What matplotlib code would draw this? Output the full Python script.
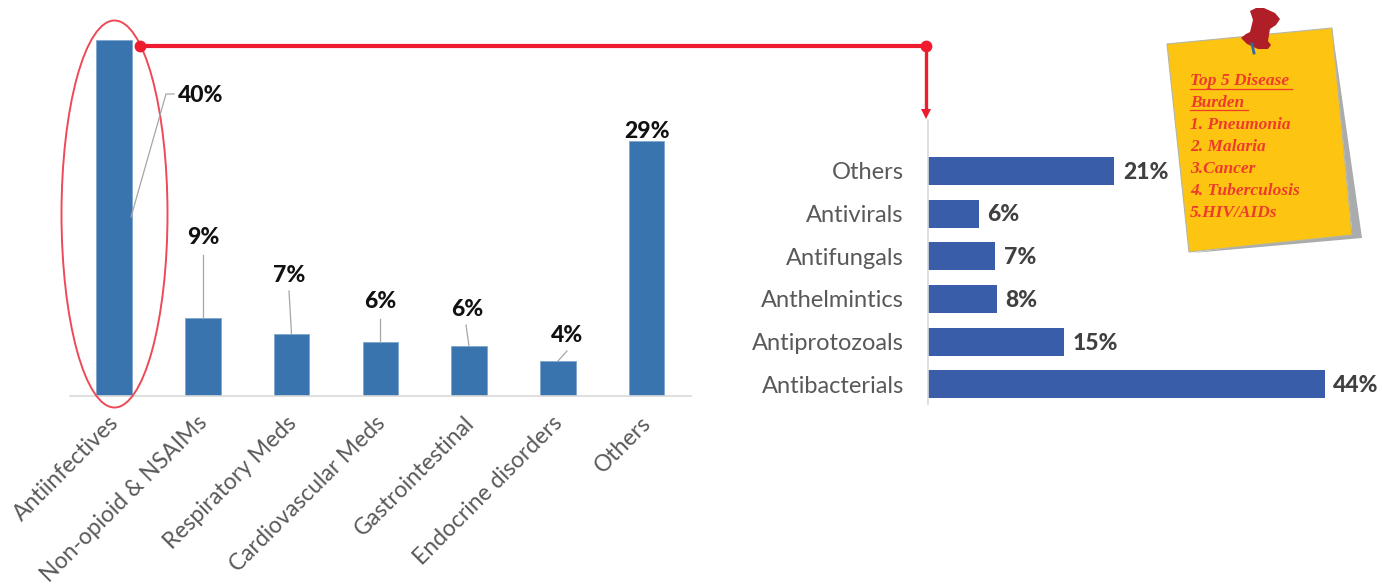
import matplotlib
matplotlib.use("Agg")
import matplotlib.pyplot as plt
from matplotlib.patches import Ellipse, Polygon
from matplotlib.transforms import ScaledTranslation

W, H = 1382, 587

# left chart
left_cats = ["Antiinfectives", "Non-opioid & NSAIMs", "Respiratory Meds",
             "Cardiovascular Meds", "Gastrointestinal", "Endocrine disorders", "Others"]
left_vals = [40, 8.7, 6.9, 6.0, 5.6, 3.9, 28.6]
left_labels = ["40%", "9%", "7%", "6%", "6%", "4%", "29%"]

# right chart (bottom to top)
right_cats = ["Antibacterials", "Antiprotozoals", "Anthelmintics", "Antifungals", "Antivirals", "Others"]
right_vals = [44, 15.1, 7.7, 7.5, 5.7, 20.7]
right_labels = ["44%", "15%", "8%", "7%", "6%", "21%"]

# sticky note
note_lines = ["Top 5 Disease", "Burden", "1. Pneumonia", "2. Malaria", "3.Cancer", "4. Tuberculosis", "5.HIV/AIDs"]

plt.rcParams["font.family"] = ["Lato", "DejaVu Sans"]
fig = plt.figure(figsize=(W / 100, H / 100), dpi=100)


def axes_px(x0, y0, x1, y1):
    # pixel box, y measured from the top of the image
    return fig.add_axes([x0 / W, 1 - y1 / H, (x1 - x0) / W, (y1 - y0) / H])


# ---- left bars
ax1 = axes_px(69.6, 39.5, 691, 395.5)
ax1.bar(range(7), left_vals, width=0.4, color="#3A74AE", edgecolor="#7FA6CE", linewidth=0.6, zorder=2)
ax1.set_xlim(-0.5, 6.5)
ax1.set_ylim(0, 40)
ax1.set_yticks([])
ax1.set_xticks(range(7))
ax1.set_xticklabels(left_cats, rotation=45, ha="right", va="top", rotation_mode="anchor",
                    fontsize=16.5, color="#595959")
ax1.tick_params(axis="x", length=0, pad=12)
# labels sit a little left of the bar centres
shift = ScaledTranslation(-6 / 100, 0, fig.dpi_scale_trans)
for lab in ax1.get_xticklabels():
    lab.set_transform(lab.get_transform() + shift)
for s in ["top", "left", "right"]:
    ax1.spines[s].set_visible(False)
ax1.spines["bottom"].set_color("#D9D9D9")
ax1.spines["bottom"].set_linewidth(1.2)

# ---- right bars
ax2 = axes_px(927.5, 120, 1382, 404)
ax2.barh(range(6), right_vals, height=0.655, color="#3A5DAA", zorder=2)
ax2.set_xlim(0, 454.5 / 9.03)
ax2.set_ylim(-0.46, 5.19 + 1.0)
ax2.set_xticks([])
ax2.set_yticks(range(6))
ax2.set_yticklabels(right_cats, fontsize=17, color="#595959")
ax2.tick_params(axis="y", length=0, pad=17)
for s in ["top", "bottom", "right"]:
    ax2.spines[s].set_visible(False)
ax2.spines["left"].set_color("#D9D9D9")
ax2.spines["left"].set_linewidth(1.2)
for i, (v, lab) in enumerate(zip(right_vals, right_labels)):
    ax2.annotate(lab, (v, i), xytext=(6, -1), textcoords="offset points", va="center", ha="left",
                 fontsize=16.5, fontweight="black", color="#404040")

# ---- overlay in image pixels
ov = fig.add_axes([0, 0, 1, 1], facecolor="none")
ov.set_xlim(0, W)
ov.set_ylim(H, 0)
ov.axis("off")

# value labels and their leader lines on the left chart
label_pos = [(201, 96), (203, 238), (289, 275), (380, 302), (467, 309), (567, 335), (647, 131)]
for (x, y), lab in zip(label_pos, left_labels):
    ov.text(x, y, lab, ha="center", va="center", fontsize=16.5, fontweight="black", color="#111111")
leaders = [([131, 166, 174], [217, 94, 94]), ([203, 203], [255, 318]), ([289, 291.5], [291, 334]),
           ([380, 380], [319, 342]), ([466, 469], [325, 346]), ([558, 567], [361, 351])]
for xs, ys in leaders:
    ov.plot(xs, ys, color="#A6A6A6", lw=0.9)

# red highlight + connector
red = "#EE1C2E"
ov.add_patch(Ellipse((114.5, 214), 106, 387, fill=False, edgecolor="#EE4A55", lw=1.4))
ov.plot([140, 926], [45.5, 45.5], color=red, lw=3, solid_capstyle="butt")
ov.plot([140], [45.5], "o", color=red, ms=7.5)
ov.plot([926], [45.5], "o", color=red, ms=7.5)
ov.plot([926, 926], [45.5, 110], color=red, lw=2.4, solid_capstyle="butt")
ov.add_patch(Polygon([[921, 109], [931, 109], [926, 119]], closed=True, color=red, lw=0))

# sticky note
ov.add_patch(Polygon([[1332, 28], [1362, 238], [1192, 253], [1352, 230]], closed=True, color="#A9ABAD", lw=0))
ov.add_patch(Polygon([[1167, 44], [1332, 28], [1352, 235], [1189, 252]], closed=True,
                     facecolor="#FDC511", edgecolor="#B5B5A5", lw=0.8))
note_y = [81, 103, 125, 147, 169, 191, 213]
for txt, y in zip(note_lines, note_y):
    ov.text(1190, y, txt, ha="left", va="center", fontsize=12.5, style="italic", color="#EE3B2E",
            family=["Liberation Serif", "DejaVu Serif"], fontweight="bold")
ov.plot([1190, 1292], [89, 89], color="#EE3B2E", lw=0.9)
ov.plot([1190, 1248], [110, 110], color="#EE3B2E", lw=0.9)

# push pin
ov.plot([1252, 1254], [44, 53], color="#2E6DA4", lw=2)
ov.add_patch(Polygon([[1250, 11], [1256, 8], [1264, 8], [1275, 13], [1280, 19], [1276, 25], [1270, 29],
                      [1268, 41], [1271, 45], [1268, 49], [1258, 49], [1247, 44], [1241, 38], [1246, 34],
                      [1250, 32], [1253, 20]],
                     closed=True, color="#B01F28", lw=0))

fig.savefig("out.png", dpi=100)
